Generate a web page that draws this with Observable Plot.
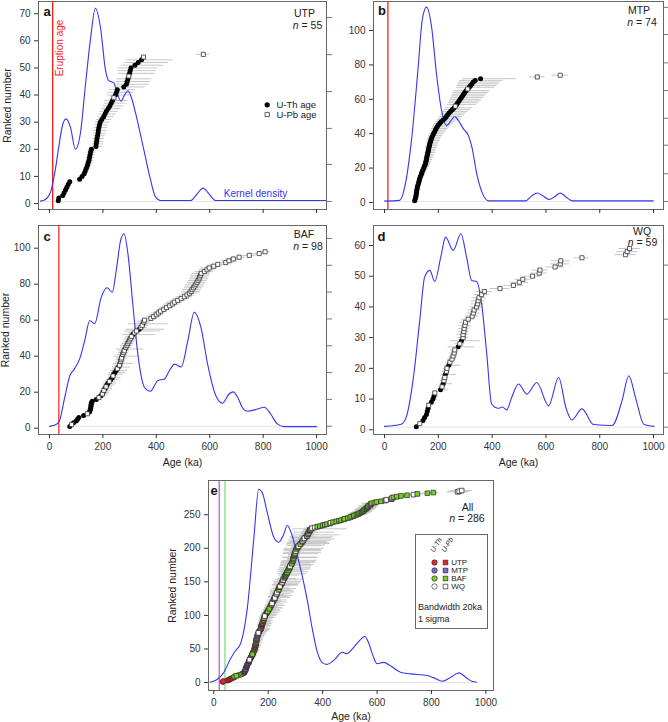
<!DOCTYPE html>
<html><head><meta charset="utf-8">
<script src="https://cdn.jsdelivr.net/npm/d3@7"></script>
<script src="https://cdn.jsdelivr.net/npm/@observablehq/plot@0.6"></script>
<style>
body{margin:0;background:#fff;}
#chart{position:relative;width:668px;height:722px;overflow:hidden;background:#fff;}
#chart > div{position:absolute;}
</style></head><body><div id="chart"></div>
<script>
// ---------- data ----------
const xTicks = [0,200,400,600,800,1000];
const yTicksA = [0,10,20,30,40,50,60,70];
const yTicksB = [0,20,40,60,80,100];
const yTicksC = [0,20,40,60,80,100];
const yTicksD = [0,10,20,30,40,50,60];
const yTicksE = [0,50,100,150,200,250];
const rightTicksA = [0.74,14.4,27.7,41.3,54.9,68.6];
const rightTicksB = [0.58,16.7,33.3,49.0,65.1,81.2,97.7,113.5];
const rightTicksC = [1.1,16.0,30.9,45.8,60.7,75.6,90.5,105.4];
const rightTicksD = [0.85,18.4,36.0,53.6];

const groups = ["UTP","MTP","BAF","WQ"];
const methods = ["U-Th","U-Pb"];
const groupColors = {UTP:"#e8262a", MTP:"#8466c8", BAF:"#74d11c", WQ:"#ffffff"};

// UTP (panel a) ages in ka, ranked
const utpAge = [33,35,50,55,60,65,70,76,113,122,130,134,138,142,145,148,150,152,154,157,174,175,177,178,180,182,183,185,187,190,196,203,208,213,220,226,231,236,241,247,251,254,278,288,291,294,297,300,302,305,320,332,345,352,576];
const utpLo = [3,3,3,3,4,4,4,5,8,8,9,9,10,10,10,11,11,11,12,12,14,14,15,15,15,16,16,17,17,18,19,20,21,22,24,25,26,28,8,30,31,32,36,38,40,41,10,43,44,45,50,52,55,8,25];
const utpHi = [4,4,5,5,5,6,6,7,12,13,14,15,16,17,18,19,20,20,21,22,25,26,27,28,29,30,31,32,33,35,38,40,42,45,48,52,55,58,8,62,65,68,80,85,88,90,10,95,98,100,108,114,118,8,25];
const utpPbRanks = [39,47,54,55];

// MTP (panel b)
const mtpAge = [112,114,116,117,118,119,120,121,122,124,126,128,129,131,133,136,138,140,143,146,148,151,153,154,156,157,158,160,161,163,164,165,167,168,170,172,174,176,179,182,186,189,192,196,200,205,210,218,225,230,235,240,246,252,258,263,268,272,277,281,286,290,294,298,303,309,315,320,325,330,337,357,568,653];
const mtpLo = [4,4,4,4,4,5,5,5,5,5,5,5,6,6,6,6,7,7,7,8,8,8,9,9,9,10,10,10,10,11,11,11,12,12,12,13,13,14,14,15,16,16,17,18,19,20,21,23,25,26,27,28,30,31,32,10,34,35,36,38,40,41,42,44,45,10,48,50,52,55,58,66,30,30];
const mtpHi = [8,8,8,9,9,9,9,10,10,10,11,11,12,12,13,14,15,16,17,18,19,20,21,22,23,24,25,26,27,28,29,30,31,32,33,34,35,36,37,38,40,42,44,46,48,50,52,55,58,60,62,64,66,68,70,10,74,76,78,80,82,84,86,88,90,10,95,98,100,102,104,134,30,30];
const mtpPbRanks = [56,66,73,74];

// BAF (panel c)
const bafAge = [76,83,90,100,105,110,128,142,150,152,154,155,156,157,160,175,185,192,198,201,204,208,212,215,219,224,230,235,238,240,245,250,254,258,262,264,266,268,270,272,274,277,280,283,286,290,293,297,300,304,308,312,318,326,336,342,347,350,353,356,380,390,400,408,416,428,438,450,460,468,480,493,505,515,524,530,534,539,544,548,552,556,560,562,565,568,580,590,598,615,630,660,672,688,710,748,785,807];
const bafLo = [4,5,5,5,5,6,7,8,8,8,9,9,9,9,10,10,12,12,12,12,13,14,14,14,15,15,16,16,17,18,19,20,18,22,18,24,18,18,20,28,20,20,20,32,20,22,22,22,22,22,22,40,24,45,50,25,25,55,25,25,25,25,25,25,25,25,25,25,30,30,30,30,30,30,30,35,35,35,35,35,35,35,35,35,35,35,35,30,30,30,30,30,30,28,25,25,25,20];
const bafHi = [6,7,7,8,8,9,10,12,13,13,14,14,14,15,16,18,20,22,22,25,24,28,24,30,30,24,32,34,17,38,40,42,18,45,18,50,18,18,20,60,20,20,20,70,20,22,22,22,22,22,22,85,24,90,95,25,25,95,25,25,25,25,25,25,25,25,25,25,30,30,30,30,30,30,30,35,35,35,35,35,35,35,35,35,35,35,35,30,30,30,30,30,30,28,25,25,25,20];
const bafThRanks = [1,3,4,5,6,7,9,10,11,12,13,14,15,16,18,20,22,24,25,27,28,30,31,32,34,36,40,44,52,55,58];

// WQ (panel d)
const wqAge = [118,131,143,149,156,159,162,164,174,180,184,187,208,214,218,221,224,226,230,232,239,243,251,255,259,261,274,280,286,292,292,295,296,299,301,311,326,330,333,342,346,348,351,361,371,429,479,501,514,550,575,578,634,653,655,734,896,902,911];
const wqLo = [5,6,6,6,7,7,7,8,8,8,9,10,12,12,12,12,14,14,15,15,15,15,16,16,16,16,38,18,40,20,20,20,20,22,22,24,25,25,25,25,25,25,25,28,30,37,35,35,30,30,30,30,35,35,35,28,40,40,40];
const wqHi = [8,6,10,10,11,11,12,8,14,15,16,10,30,12,35,12,14,40,15,15,45,15,16,16,16,16,62,18,70,20,20,20,20,22,22,24,25,25,25,25,25,25,25,28,30,37,35,35,30,30,30,30,35,35,35,28,40,40,40];
const wqThRanks = [1,3,4,5,6,7,9,10,11,13,15,18,21,27,29];

// kernel density curves [age, value in ranked-number units]
const densA = [[-34,0.9],[-15,1.5],[4,4.2],[22,12.5],[35,21],[48,28.5],[62,31.2],[79,28],[97,20],[116,26],[135,44],[154,61],[172,72],[191,65],[210,49],[222,45.3],[241,44.5],[251,41.6],[268,37.7],[281,40],[294,41.6],[310,38],[329,30.6],[354,19.5],[379,8.5],[397,2.4],[416,1.1],[528,1.1],[553,3.6],[575,5.7],[597,3.6],[622,1.1],[1034,1.1]];
const densB = [[0,0.8],[56,1.2],[75,8.9],[100,36],[125,78.6],[140,106],[156,113.6],[175,102],[193,75],[212,53.5],[231,44.7],[247,47.6],[260,50],[275,47.6],[293,42.8],[312,38.9],[325,32],[343,16.6],[362,6],[387,0.9],[524,0.9],[549,4],[568,5.5],[587,4],[612,1.7],[633,3.5],[653,5.5],[674,3.2],[699,0.9],[999,0.9]];
const densC = [[0,1],[26,2.2],[38,4.3],[57,17],[76,29],[94,33],[113,38.5],[132,48.7],[151,59.8],[169,58],[194,72.8],[216,78],[235,75.5],[250,87.6],[266,104],[279,108],[294,96.6],[312,69],[331,41],[356,22.6],[378,20.5],[406,26.5],[430,27.3],[449,31.9],[468,35.6],[493,34],[518,48.6],[542,64.4],[567,56],[592,35.6],[623,18],[648,13.9],[672,19],[688,20.2],[705,17],[722,11.5],[741,9.4],[779,10.7],[804,11.6],[828,7.9],[853,2.4],[878,0.9],[1000,0.9]];
const densD = [[0,1.1],[62,1.8],[81,4.2],[106,16.1],[131,35.6],[149,49.7],[168,51.9],[187,48.3],[209,56.2],[227,62.7],[255,58.4],[284,63.8],[305,56.2],[324,48.6],[342,48.3],[361,41],[380,24.7],[398,8.4],[423,7],[438,7.4],[454,6.5],[473,10.6],[498,14.9],[529,11.6],[566,15.4],[610,7.8],[647,17],[675,7],[696,3.2],[734,6.8],[777,1.7],[846,1.4],[883,9.5],[908,17.6],[933,10.5],[964,1.8],[1002,1.1]];
const densE = [[-14,0.5],[12,4.4],[37,15.4],[61,35],[80,47.7],[98,57.6],[123,110],[147,214],[165,288],[178,283],[196,254],[221,216],[239,209],[257,221],[270,234],[288,219],[307,189],[325,159],[343,124],[362,80],[380,46],[398,30],[415,27],[441,33],[472,45],[490,43],[509,50],[539,64],[555,68.6],[570,58],[585,40],[600,28],[625,30],[649,25],[686,15.4],[723,12.9],[784,10.4],[809,6.9],[840,1.9],[871,7.9],[901,14.4],[926,7.9],[950,1.4],[966,0.5]];

// ---------- helpers ----------
const FONT = '"Liberation Sans", Arial, Helvetica, sans-serif';
const BLUE = "#3535f2";
const ERR = "#c6c6c6";
const AXIS = "#333";
const FRAME = "#666";

function rows(ages, lo, hi, isTh, group) {
  return ages.map((a, i) => ({age: a, lo: a - lo[i], hi: a + hi[i], rank: i + 1,
    method: isTh(i + 1) ? "U-Th" : "U-Pb", group}));
}
const utp = rows(utpAge, utpLo, utpHi, r => !utpPbRanks.includes(r), "UTP");
const mtp = rows(mtpAge, mtpLo, mtpHi, r => !mtpPbRanks.includes(r), "MTP");
const baf = rows(bafAge, bafLo, bafHi, r => bafThRanks.includes(r), "BAF");
const wq  = rows(wqAge, wqLo, wqHi, r => wqThRanks.includes(r), "WQ");
const all = [...utp, ...mtp, ...baf, ...wq].map(d => ({...d}))
  .sort((a, b) => a.age - b.age).map((d, i) => ({...d, rank: i + 1}));

function italicN(svg) {
  svg.querySelectorAll("text").forEach(t => {
    const m = /^n = (\d+)$/.exec(t.textContent);
    if (m && t.children.length === 0) {
      t.textContent = "";
      const ns = "http://www.w3.org/2000/svg";
      const a = document.createElementNS(ns, "tspan"); a.setAttribute("font-style", "italic"); a.textContent = "n";
      const b = document.createElementNS(ns, "tspan"); b.textContent = " = " + m[1];
      t.appendChild(a); t.appendChild(b);
    }
  });
}

function panel(o) {
  const th = o.data.filter(d => d.method === "U-Th");
  const pb = o.data.filter(d => d.method === "U-Pb");
  const dens = o.dens.map(([x, y]) => ({x, y}));
  const colored = !!o.colored;
  const marks = [
    Plot.ruleY([{y: o.base, x1: dens[0].x, x2: dens[dens.length - 1].x}], {y: "y", x1: "x1", x2: "x2", stroke: "#e6e6e6"}),
    ...o.eruption.map(e => Plot.ruleX([e.age], {stroke: e.color, strokeWidth: 1.3})),
    Plot.ruleY(o.data, {y: "rank", x1: "lo", x2: "hi", stroke: ERR, strokeWidth: 1}),
    Plot.line(dens, {x: "x", y: "y", stroke: BLUE, strokeWidth: 1.1, curve: "monotone-x"}),
    Plot.dot(th, {x: "age", y: "rank", r: colored ? 2.7 : 2.5,
      fill: colored ? d => groupColors[d.group] : "black",
      stroke: colored ? "#222" : "none", strokeWidth: 0.6}),
    Plot.dot(pb, {x: "age", y: "rank", symbol: "square", r: colored ? 2.6 : 2.3,
      fill: colored ? d => groupColors[d.group] : "white", stroke: "#333", strokeWidth: 0.8}),
    Plot.frame({stroke: FRAME}),
    Plot.axisX(xTicks, {anchor: "bottom", tickSize: 4, tickPadding: o.xLabels ? 4 : 0,
      tickFormat: o.xLabels ? d => String(d) : () => "", label: null, color: AXIS}),
    Plot.axisY(o.yTicks, {anchor: "left", tickSize: 4, tickPadding: 4, label: null, color: AXIS}),
    Plot.text([o.letter], {text: d => d, frameAnchor: "top-left", dx: o.letterPos[0], dy: o.letterPos[1],
      textAnchor: "middle", lineAnchor: "middle", fontWeight: "bold", fontSize: 13, fill: "#111"}),
    Plot.text([o.name], {text: d => d, frameAnchor: "top-right", dx: o.namePos[0], dy: o.namePos[1],
      textAnchor: "middle", lineAnchor: "middle", fontSize: 10.5, fill: "#222"}),
    Plot.text(["n = " + o.data.length], {text: d => d, frameAnchor: "top-right", dx: o.nPos[0], dy: o.nPos[1],
      textAnchor: "middle", lineAnchor: "middle", fontSize: 10.5, fill: "#222"})
  ];
  if (o.right) marks.push(Plot.axisY(o.right, {anchor: "right", tickSize: 5, tickFormat: () => "", label: null, color: "#777"}));
  if (o.yTitle != null) marks.push(Plot.text(["Ranked number"], {text: d => d, frameAnchor: "left", rotate: -90,
    dx: o.yTitle, textAnchor: "middle", lineAnchor: "middle", fontSize: 10.5, fill: "#222"}));
  if (o.xTitle != null) marks.push(Plot.text(["Age (ka)"], {text: d => d, frameAnchor: "bottom",
    dy: o.xTitle, textAnchor: "middle", lineAnchor: "middle", fontSize: 10.5, fill: "#222"}));
  if (o.extra) marks.push(...o.extra);
  const svg = Plot.plot({
    width: o.w, height: o.h,
    marginTop: o.m[0], marginRight: o.m[1], marginBottom: o.m[2], marginLeft: o.m[3],
    x: {domain: o.xDomain}, y: {domain: o.yDomain},
    style: {fontFamily: FONT, fontSize: "10px", background: "transparent", overflow: "visible", color: "#222"},
    marks
  });
  italicN(svg);
  return svg;
}

function place(node, left, top) {
  const div = document.createElement("div");
  div.style.left = left + "px"; div.style.top = top + "px";
  div.appendChild(node);
  document.getElementById("chart").appendChild(div);
}

const XD = [-41, 1037];

// panel a
place(panel({
  data: utp, dens: densA, base: rightTicksA[0], w: 334, h: 220, m: [1, 8, 11, 38],
  xDomain: XD, yDomain: [-2.2, 74.5], yTicks: yTicksA, right: rightTicksA, xLabels: false,
  eruption: [{age: 12, color: "#ff1a1a"}], letter: "a", letterPos: [8.5, 10.5],
  name: "UTP", namePos: [-22, 12.3], nPos: [-19, 24], yTitle: -31,
  extra: [
    Plot.text(["Eruption age"], {text: d => d, frameAnchor: "top-left", dx: 21, dy: 46.5, rotate: -90,
      textAnchor: "middle", lineAnchor: "middle", fontSize: 10, fill: "#ff1a1a"}),
    Plot.text(["Kernel density"], {text: d => d, frameAnchor: "bottom-right", dx: -71, dy: -16,
      textAnchor: "middle", lineAnchor: "middle", fontSize: 10, fill: BLUE}),
    Plot.dot([0], {frameAnchor: "top-right", dx: -59.3, dy: 103.3, r: 2.6, fill: "black"}),
    Plot.dot([0], {frameAnchor: "top-right", dx: -59.3, dy: 113, symbol: "square", r: 2.4, fill: "white", stroke: "#333", strokeWidth: 0.8}),
    Plot.text(["U-Th age"], {text: d => d, frameAnchor: "top-right", dx: -50, dy: 103.3, textAnchor: "start", lineAnchor: "middle", fontSize: 9.5, fill: "#222"}),
    Plot.text(["U-Pb age"], {text: d => d, frameAnchor: "top-right", dx: -50, dy: 113, textAnchor: "start", lineAnchor: "middle", fontSize: 9.5, fill: "#222"})
  ]
}), 0, 0);

// panel b
place(panel({
  data: mtp, dens: densB, base: rightTicksB[0], w: 334, h: 220, m: [1, 5, 11, 39],
  xDomain: XD, yDomain: [-4.1, 116.9], yTicks: yTicksB, right: rightTicksB, xLabels: false,
  eruption: [{age: 12.5, color: "#ff1a1a"}], letter: "b", letterPos: [8.5, 9],
  name: "MTP", namePos: [-24.5, 9], nPos: [-21.5, 20.7]
}), 334, 0);

// panel c
place(panel({
  data: baf, dens: densC, base: rightTicksC[0], w: 334, h: 252, m: [5, 8, 38, 38],
  xDomain: XD, yDomain: [-3.5, 112.6], yTicks: yTicksC, right: rightTicksC, xLabels: true,
  eruption: [{age: 35, color: "#ff3030"}], letter: "c", letterPos: [8.5, 11.5],
  name: "BAF", namePos: [-22.5, 9], nPos: [-18.5, 21], yTitle: -33, xTitle: 28
}), 0, 220);

// panel d
place(panel({
  data: wq, dens: densD, base: rightTicksD[0], w: 334, h: 252, m: [5, 5, 38, 39],
  xDomain: XD, yDomain: [-1.53, 66.5], yTicks: yTicksD, right: rightTicksD, xLabels: true,
  eruption: [], letter: "d", letterPos: [8, 11],
  name: "WQ", namePos: [-21.5, 6], nPos: [-21, 16.7], xTitle: 28
}), 334, 220);

// panel e
place(panel({
  data: all, dens: densE, base: 0, w: 360, h: 267, m: [25, 17, 32, 58], colored: true,
  xDomain: [-19.5, 1028], yDomain: [-11.9, 301], yTicks: yTicksE, right: null, xLabels: true,
  eruption: [{age: 20, color: "#c060c0"}, {age: 41, color: "#7ee07e"}], letter: "e", letterPos: [5.5, 10],
  name: "All", namePos: [-26, 27], nPos: [-26.5, 38], yTitle: -36, xTitle: 26
}), 150, 455);

// legend for panel e
const legendRows = groups.flatMap(g => methods.map(m => ({group: g, method: m})));
const legend = Plot.plot({
  width: 74, height: 96, marginTop: 1, marginRight: 1, marginBottom: 1, marginLeft: 1,
  x: {type: "point", domain: methods, range: [19.3, 31], padding: 0, axis: null},
  y: {type: "point", domain: groups, range: [28.7, 52.7], padding: 0, axis: null},
  style: {fontFamily: FONT, fontSize: "9px", background: "white", overflow: "visible", color: "#222"},
  marks: [
    Plot.frame({stroke: FRAME}),
    Plot.dot(legendRows.filter(d => d.method === "U-Th"), {x: "method", y: "group", r: 2.7,
      fill: d => groupColors[d.group], stroke: "#222", strokeWidth: 0.6}),
    Plot.dot(legendRows.filter(d => d.method === "U-Pb"), {x: "method", y: "group", r: 2.6, symbol: "square",
      fill: d => groupColors[d.group], stroke: "#222", strokeWidth: 0.7}),
    Plot.text(groups, {text: d => d, y: d => d, frameAnchor: "left", dx: 35.7, textAnchor: "start", lineAnchor: "middle", fontSize: 8}),
    Plot.text(methods, {text: d => d, x: d => d, frameAnchor: "top", dx: -2.5, dy: 17, rotate: -57,
      textAnchor: "start", lineAnchor: "middle", fontSize: 7, fontStyle: "italic"}),
    Plot.text(["Bandwidth 20ka\n1 sigma"], {text: d => d, frameAnchor: "top-left", dx: 2.5, dy: 77.5,
      textAnchor: "start", lineAnchor: "middle", lineHeight: 1.3, fontSize: 9})
  ]
});
place(legend, 414, 533);
</script></body></html>
